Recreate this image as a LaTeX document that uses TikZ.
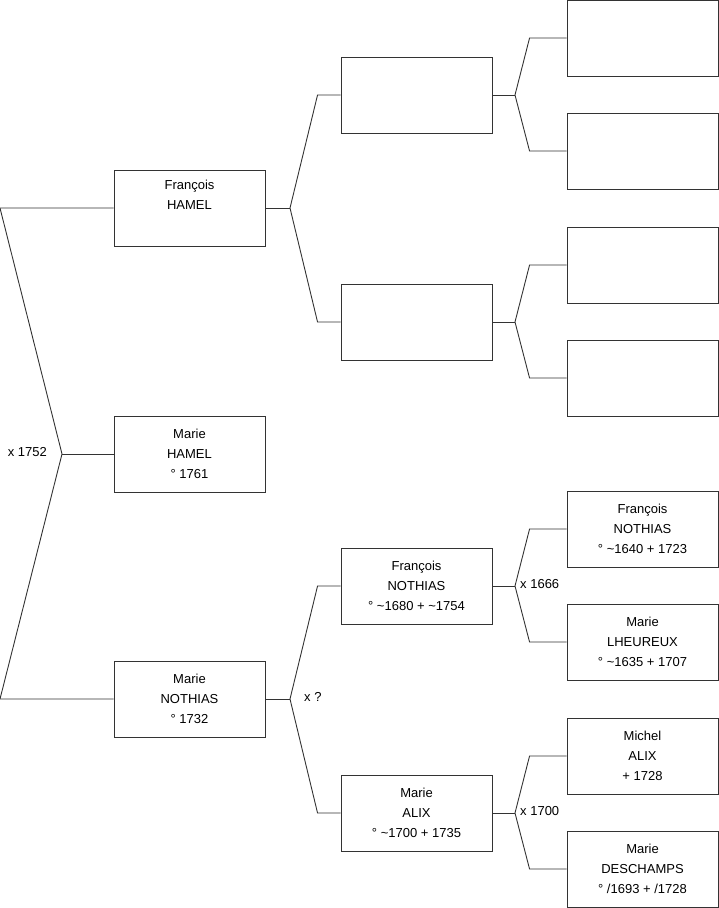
\documentclass[tikz,border=0pt]{standalone}
\usepackage{fontspec}
\setmainfont{Liberation Sans}
\begin{document}
\begin{tikzpicture}[x=1pt, y=-1pt,
    person/.style={draw=black!80, line width=0.9pt, minimum width=151pt, minimum height=76pt,
      inner sep=0pt, align=center, font=\fontsize{13}{20}\selectfont},
    link/.style={draw=black!80, line width=0.9pt},
    wed/.style={inner sep=0pt, font=\fontsize{13}{15}\selectfont}]
    \useasboundingbox (0,0) rectangle (719,908);

    % Generation 1
    \node[person] (fhamel)   at (189.5,208) {François\\HAMEL\\\strut};
    \node[person] (mhamel)   at (189.5,454) {Marie\\HAMEL\\° 1761};
    \node[person] (mnothias) at (189.5,699) {Marie\\NOTHIAS\\° 1732};

    % Generation 2
    \node[person] (ga) at (416.5,95) {};
    \node[person] (gb) at (416.5,322) {};
    \node[person] (fnothias) at (416.5,586) {François\\NOTHIAS\\° \textasciitilde1680 + \textasciitilde1754};
    \node[person] (malix)    at (416.5,813) {Marie\\ALIX\\° \textasciitilde1700 + 1735};

    % Generation 3
    \node[person] (ha) at (642.5,38) {};
    \node[person] (hb) at (642.5,151) {};
    \node[person] (hc) at (642.5,265) {};
    \node[person] (hd) at (642.5,378) {};
    \node[person] (fnothias2)  at (642.5,529) {François\\NOTHIAS\\° \textasciitilde1640 + 1723};
    \node[person] (mlheureux)  at (642.5,642) {Marie\\LHEUREUX\\° \textasciitilde1635 + 1707};
    \node[person] (malix2)     at (642.5,756) {Michel\\ALIX\\+ 1728};
    \node[person] (mdeschamps) at (642.5,869) {Marie\\DESCHAMPS\\° /1693 + /1728};

    % Forks
    \coordinate (k0) at (62,454);
    \coordinate (k1) at (290,208);
    \coordinate (k2) at (290,699);
    \coordinate (k3) at (515,95);
    \coordinate (k4) at (515,322);
    \coordinate (k5) at (515,586);
    \coordinate (k6) at (515,813);

    % Connectors
    \draw[link] (mhamel.west) -- (k0);
    \draw[link] (fhamel.west) -- (fhamel.west -| 0,0) -- (k0) -- (mnothias.west -| 0,0) -- (mnothias.west);

    \draw[link] (fhamel.east) -- (k1);
    \draw[link] (ga.west) -- ([xshift=-23pt]ga.west) -- (k1) -- ([xshift=-23pt]gb.west) -- (gb.west);
    \draw[link] (mnothias.east) -- (k2);
    \draw[link] (fnothias.west) -- ([xshift=-23pt]fnothias.west) -- (k2) -- ([xshift=-23pt]malix.west) -- (malix.west);

    \draw[link] (ga.east) -- (k3);
    \draw[link] (ha.west) -- ([xshift=-37pt]ha.west) -- (k3) -- ([xshift=-37pt]hb.west) -- (hb.west);
    \draw[link] (gb.east) -- (k4);
    \draw[link] (hc.west) -- ([xshift=-37pt]hc.west) -- (k4) -- ([xshift=-37pt]hd.west) -- (hd.west);
    \draw[link] (fnothias.east) -- (k5);
    \draw[link] (fnothias2.west) -- ([xshift=-37pt]fnothias2.west) -- (k5) -- ([xshift=-37pt]mlheureux.west) -- (mlheureux.west);
    \draw[link] (malix.east) -- (k6);
    \draw[link] (malix2.west) -- ([xshift=-37pt]malix2.west) -- (k6) -- ([xshift=-37pt]mdeschamps.west) -- (mdeschamps.west);

    % Marriages
    \node[wed, anchor=east] (w0) at (47,452) {x 1752};
    \node[wed, anchor=west] (w2) at (304,697) {x ?};
    \node[wed, anchor=west] (w5) at (520,584) {x 1666};
    \node[wed, anchor=west] (w6) at (520,811) {x 1700};
\end{tikzpicture}
\end{document}
